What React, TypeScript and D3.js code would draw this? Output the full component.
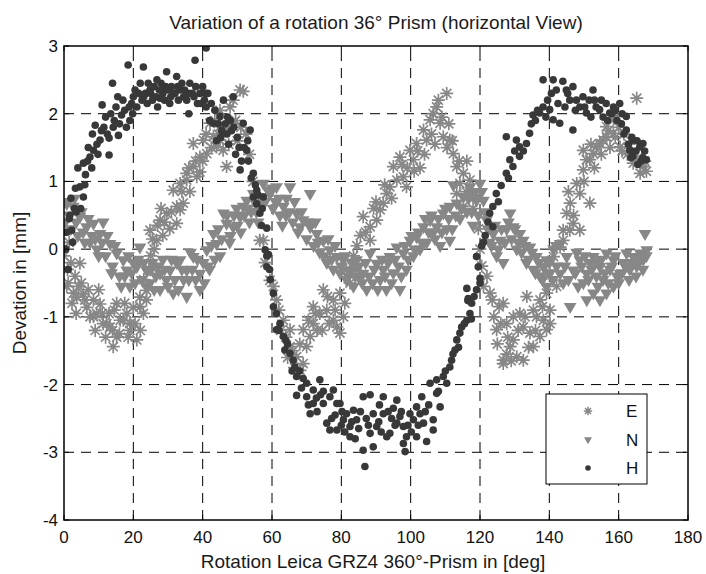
import React from "react";
import * as d3 from "d3";

// rotation angle [deg] / deviation [mm]
const eData: [number, number][] = [
  [0,-0.1],[0.8,-0.55],[1,-0.3],[1.5,0.1],[2,-0.2],[2.7,-0.65],[3.2,-0.4],[3.7,-0.71],[4.6,-0.21],[5,-0.5],
  [5.6,-0.66],[6.6,-0.86],[7,-0.6],[8.5,-0.75],[8.5,-1.0],[9.4,-0.95],[10.4,-0.81],[11.3,-1.1],[12.3,-1.1],[13.3,-1.15],
  [14.2,-1.44],[14.5,-0.9],[15.2,-1.3],[15.2,-0.8],[16.2,-1.05],[17.1,-1.05],[18.1,-0.95],[19,-1.2],[19,-1.1],[20,-0.86],
  [21,-1.34],[21.9,-0.85],[21.9,-0.71],[22.9,-0.95],[23.8,-0.61],[23.8,-0.75],[24.5,-0.3],[24.8,0.28],[25,-0.1],[26,0.0],
  [26.7,0.13],[27.7,0.43],[28.5,0.2],[29.6,0.53],[30.5,0.3],[31.5,0.87],[32.5,0.38],[32.5,0.63],[33.5,0.58],[33.5,0.97],
  [34.4,0.68],[35.4,1.02],[35.4,1.12],[36.3,0.85],[37.3,1.22],[37.3,1.56],[38.3,1.07],[39.2,1.36],[39.2,1.14],[40.2,1.61],
  [41.2,1.41],[42.1,1.86],[43.1,1.66],[44,1.51],[45,1.81],[45,2.05],[45,1.61],[45.9,1.46],[46.9,1.22],[47.9,2.1],
  [48.8,2.2],[49.5,1.9],[50.8,2.35],[51.7,2.33],[52.5,1.7],[53.5,1.4],[54.5,1.0],[55.5,0.6],[56.5,0.13],[57.5,0.13],
  [58,-0.2],[59.4,-0.46],[60.4,-0.55],[61.3,-0.75],[62,-0.9],[63.3,-1.05],[64,-1.3],[65.2,-1.19],[65.2,-1.44],[66,-1.5],
  [67.1,-1.59],[68.1,-1.79],[69,-1.69],[69,-1.19],[70,-1.44],[71,-1.29],[71.9,-1.1],[71.9,-0.85],[73,-1.2],[73.8,-0.95],
  [74.8,-0.6],[75.8,-0.9],[76.5,-1.1],[77.7,-1.05],[77.7,-0.75],[78.7,-1.15],[79.6,-1.24],[79.6,-0.65],[80.6,-1.0],[81.5,-0.3],
  [82.5,-0.5],[83.5,-0.1],[84.5,0.05],[85.5,0.2],[86.3,0.48],[88.3,0.33],[88.3,0.13],[89.3,0.6],[90.2,0.43],[91.2,0.58],
  [92.1,0.68],[93.1,0.82],[94,0.92],[95,1.22],[96,1.02],[96.9,1.36],[97.9,1.07],[98.8,0.92],[99.8,1.46],[100.8,1.32],
  [101.7,1.56],[102.7,1.2],[103.7,1.76],[104.6,1.61],[105.6,1.91],[106.5,2.0],[107.5,2.1],[108.5,1.86],[109.4,1.66],[110.4,2.3],
  [110.5,1.5],[111.3,1.61],[112.3,1.41],[113.3,1.22],[113.3,0.82],[114.2,0.97],[115.2,1.12],[115.2,0.63],[116.2,1.3],[117.1,1.02],
  [118,0.6],[119,0.77],[119.5,0.3],[120,0.0],[120.5,-0.25],[121,-0.55],[122,-0.4],[122.9,-0.65],[124,-1.0],[124.8,-1.19],
  [125.5,-0.85],[126.7,-0.8],[126.7,-1.64],[126.7,-1.69],[127.7,-1.1],[127.7,-1.55],[128.7,-1.44],[129.6,-1.0],[129.6,-1.34],[130.6,-1.59],
  [131.5,-0.95],[132.5,-1.15],[132.5,-1.64],[133.5,-0.7],[134.4,-1.24],[135.4,-0.9],[135.4,-1.44],[136.3,-1.0],[137.3,-1.29],[137.3,-0.75],
  [138.3,-1.05],[139.2,-0.65],[139.2,-1.19],[139.2,-0.36],[140.2,-0.9],[140.2,-1.1],[141.2,-0.11],[142.1,-0.55],[143.1,0.03],[144,0.13],
  [144,0.28],[145,0.53],[145.9,0.28],[146,0.68],[146.9,0.38],[147.9,0.97],[148.8,0.82],[148.8,0.28],[149.8,1.17],[149.8,1.46],
  [150.7,1.32],[151.7,0.68],[151.7,1.32],[152.7,1.41],[153.6,1.51],[154.6,1.56],[155.5,1.61],[156.5,1.81],[156.5,1.66],[157.5,1.5],
  [158.5,1.71],[158.5,1.91],[159.3,1.96],[160.4,1.51],[161.5,1.7],[162.5,1.4],[164.2,1.27],[165.2,2.23],[166.2,1.12],[167.1,1.22],
  [168,1.15],
  [1.2,-0.5],[2.3,-0.8],[3.5,-0.95],[4.2,-0.55],[6,-0.75],[7.5,-1.0],[9,-1.2],[10,-0.6],[11,-0.95],[12,-1.3],
  [13,-0.95],[14,-1.2],[16,-1.25],[17.5,-0.8],[18.5,-1.3],[20.5,-1.1],[22,-1.2],[23,-0.45],[25.5,0.15],[27,0.35],
  [28,0.6],[29,0.4],[31,0.55],[34,0.85],[36,1.2],[38,1.3],[40,1.3],[41,1.7],[42.5,1.5],[43.5,1.9],
  [44.5,1.7],[46.5,1.75],[47.5,1.55],[48,1.85],[50,1.6],[51,1.8],[62.5,-1.2],[64.5,-1.6],[66.5,-1.75],[68,-1.4],
  [70.5,-1.05],[72.5,-0.95],[74.5,-1.2],[76,-0.7],[78.2,-0.9],[81,-0.8],[84,-0.3],[87,0.25],[90,0.7],[92.5,0.95],
  [94.5,0.75],[97.5,1.25],[99,1.2],[101,1.15],[102,1.45],[104,1.4],[106,1.7],[107,1.55],[108,2.2],[109,1.95],
  [111,1.85],[112,1.6],[114,1.3],[116,0.85],[117.5,0.8],[123.5,-0.75],[125,-1.4],[126,-1.1],[128,-1.3],[129,-1.65],
  [131,-1.2],[133,-1.0],[134,-1.45],[136,-1.2],[138,-0.85],[145.5,0.85],[147,0.5],[150,1.0],[152,1.55],[153,1.2],
  [155,1.4],[157,1.75],[159,1.65],[160,1.8],[161,1.45],[163,1.55],[165.5,1.35],[167.5,1.3],
];

const nData: [number, number][] = [
  [0,0.7],[0.8,0.67],[1.5,0.5],[2.7,0.63],[3.5,0.4],[4.6,0.48],[5.5,0.25],[6.5,0.33],[7.5,0.1],[8.5,0.38],
  [9.5,0.0],[10.4,0.23],[11.3,0.4],[12,-0.1],[13.3,0.08],[14,-0.25],[15.2,-0.06],[16,-0.4],[17.1,-0.16],[18.1,-0.31],
  [19,-0.55],[20,-0.2],[21,-0.26],[21.9,0.03],[22.5,-0.45],[23.8,-0.31],[24.8,-0.5],[25.5,-0.2],[26.5,-0.4],[27.7,-0.36],
  [27.7,-0.6],[28.5,-0.15],[29.5,-0.45],[30.6,-0.31],[31.5,-0.65],[32.5,-0.2],[33.5,-0.16],[34.5,-0.45],[35.4,-0.31],[35.4,-0.7],
  [36.5,-0.05],[37.3,-0.11],[38,-0.45],[39.2,-0.36],[39.2,-0.6],[40.2,-0.2],[41.2,-0.01],[42,-0.3],[43.1,0.23],[44,0.08],
  [45,-0.1],[46,0.53],[46.9,0.38],[47.8,0.1],[48.8,0.33],[49.8,0.6],[50.8,0.48],[51.7,0.63],[52.7,0.72],[53.5,0.4],
  [54.6,0.82],[55.5,0.55],[56.5,0.77],[57.5,0.97],[58.9,0.87],[59.4,0.82],[60.3,0.6],[61.3,0.92],[62.3,0.5],[63.3,0.63],
  [64.2,0.75],[65.2,0.92],[66,0.4],[67.1,0.53],[68.1,0.33],[69,0.43],[70,0.15],[71,0.82],[71,0.33],[72,0.05],
  [72.9,0.23],[73.8,-0.05],[74.8,0.13],[75.8,-0.2],[76.7,-0.01],[77.7,-0.3],[78.7,-0.11],[79.6,-0.35],[80.6,-0.16],[81.5,-0.45],
  [82.5,-0.31],[83.5,-0.55],[84.4,-0.16],[85.3,-0.4],[86.3,-0.36],[87.3,-0.6],[88.3,-0.06],[89,-0.5],[90.2,-0.21],[91.2,-0.45],
  [92.1,-0.3],[93,-0.6],[94,-0.11],[95,-0.35],[96,0.03],[96.9,-0.6],[97.9,-0.06],[98.8,-0.3],[99.8,0.13],[100.8,-0.1],
  [101.7,0.18],[102.7,0.0],[103.7,0.33],[104.6,0.1],[105.6,0.43],[106.5,0.25],[107.5,0.33],[108.5,0.05],[109.4,0.53],[110.4,0.3],
  [111.3,0.13],[111.3,0.63],[112.3,0.95],[113.3,0.68],[114.2,0.45],[115.2,0.77],[116.2,0.55],[117.1,0.92],[118,0.35],[119,0.72],
  [120,0.97],[121,0.72],[121.9,0.43],[122.8,0.1],[123.8,0.23],[124.8,-0.1],[125.8,0.13],[126.7,-0.2],[127.7,0.3],[128.7,0.53],
  [129.6,0.33],[130.6,0.0],[131.5,0.23],[132.5,0.13],[133.4,-0.2],[134.4,0.03],[135.4,-0.3],[136.3,-0.11],[137.3,-0.4],[138.3,-0.26],
  [139.2,-0.16],[139.2,-0.55],[140.2,-0.35],[141.2,0.0],[142.1,-0.25],[143.1,0.08],[143.1,-0.36],[144,-0.5],[145,-0.11],[146,-0.85],
  [146.9,-0.31],[147.9,-0.05],[148.8,-0.16],[149.8,-0.5],[150.8,-0.36],[150.8,-0.75],[151.7,-0.2],[152.7,-0.11],[152.7,-0.65],[153.6,-0.4],
  [154.6,-0.26],[154.6,-0.75],[155.5,-0.45],[156.5,-0.06],[156.5,-0.65],[157.5,-0.3],[158.5,-0.16],[158.5,-0.55],[159.5,-0.4],[160.4,-0.36],
  [161.3,-0.2],[162.3,-0.06],[163.2,-0.3],[164.2,-0.11],[165.2,-0.25],[166.2,-0.06],[167.1,-0.15],[167.6,0.23],[168.1,-0.01],
  [0.3,0.4],[2,0.3],[3,0.75],[4,0.2],[5,0.55],[6,0.1],[7,0.45],[8,0.2],[9,0.15],[10,-0.1],
  [11,0.1],[12.5,0.2],[13.7,-0.35],[14.7,0.05],[16.5,-0.55],[17.5,-0.4],[18.6,-0.1],[19.5,-0.35],[20.5,-0.5],[21.5,-0.15],
  [23,-0.2],[24,-0.55],[25,-0.3],[26,-0.6],[27,-0.25],[29,-0.3],[30,-0.55],[31,-0.15],[32,-0.45],[33,-0.6],
  [34,-0.3],[36,-0.45],[37,-0.3],[38.5,-0.15],[40.5,-0.5],[41.5,-0.25],[42.5,0.05],[43.5,-0.15],[44.5,0.3],[45.5,0.15],
  [47,0.5],[48,0.2],[49,0.5],[50,0.35],[51,0.25],[52,0.5],[53,0.6],[54,0.55],[55,0.7],[56,0.4],
  [57,0.65],[58,0.7],[60,0.9],[61,0.7],[62,0.75],[63,0.35],[64,0.5],[65,0.55],[66.5,0.7],[67.5,0.25],
  [68.5,0.55],[70.5,0.4],[72.5,0.4],[73.3,0.1],[75,-0.1],[76.2,0.15],[77.2,-0.15],[78.2,0.05],[80,-0.25],[81,-0.1],
  [82,-0.4],[83,-0.2],[84,-0.4],[85,-0.25],[86,-0.5],[87,-0.2],[88,-0.4],[89.5,-0.3],[90.5,-0.6],[91.7,-0.15],
  [92.6,-0.4],[93.5,-0.2],[94.5,-0.5],[95.5,-0.15],[96.5,-0.25],[97.3,-0.4],[98.3,0.05],[99.3,-0.15],[100.3,0.2],[101.2,0.0],
  [102.2,0.25],[103.2,0.1],[104.2,0.45],[105.2,0.25],[106,0.5],[107,0.15],[108,0.45],[109,0.25],[110,0.6],[111,0.45],
  [112,0.3],[113,0.5],[114.7,0.6],[116.7,0.75],[117.6,0.55],[118.5,0.85],[119.5,0.5],[120.5,0.85],[121.5,0.55],[122.3,0.3],
  [123.3,0.05],[124.3,0.35],[125.3,0.0],[126.2,0.3],[127.2,0.1],[128.2,0.4],[129.1,0.15],[130.1,0.3],[131,0.1],[132,-0.05],
  [133,0.05],[134,-0.15],[135,-0.05],[136,-0.35],[137,-0.2],[138,-0.45],[140,-0.2],[141,-0.45],[142,0.05],[144.5,-0.25],
  [145.5,-0.45],[147.5,-0.35],[148.3,-0.55],[149.3,-0.25],[150.3,-0.1],[151.3,-0.45],[152.2,-0.3],[153.2,-0.2],[154,-0.55],[155,-0.15],
  [156,-0.35],[157,-0.5],[158,-0.25],[159,-0.1],[160,-0.5],[161,-0.35],[162,-0.25],[163,-0.45],[164,-0.2],[165,-0.4],
  [166,-0.15],[167,-0.3],[168,-0.1],
];

const hData: [number, number][] = [
  [0.5,0.0],[0.8,0.25],[1.2,-0.3],[1.5,0.45],[1.7,0.5],[2.2,0.28],[2.5,0.1],[3,0.6],[3.5,0.55],[4,1.2],
  [4.6,0.92],[4.8,0.6],[5.6,0.77],[5.6,1.27],[6.2,1.1],[6.8,1.3],[7.5,1.36],[8,1.2],[8.5,1.46],[9,1.83],
  [9.5,1.55],[10.4,1.61],[11,2.13],[11.5,1.8],[12,1.95],[13,1.39],[13,1.64],[13.5,2.0],[14,2.45],[14.5,1.9],
  [15,2.1],[15.7,1.68],[16.6,1.98],[17,2.2],[17.5,2.05],[18,1.8],[18.5,2.72],[19,1.9],[19.5,2.15],[20,2.25],
  [20.5,2.35],[21,2.1],[22,2.45],[22.9,2.69],[23,2.25],[23.5,2.3],[24,2.15],[24.8,2.35],[25.5,2.2],[26,2.4],
  [26.5,2.25],[27,2.1],[27.7,2.23],[28,2.45],[28.5,2.3],[29,2.2],[29.6,2.62],[30,2.35],[30.5,2.15],[31,2.4],
  [31.5,2.3],[32.5,2.55],[33,2.2],[33.5,2.35],[34,2.45],[34.5,2.25],[35.4,2.2],[36,2.0],[36.3,2.45],[37,2.3],
  [37.8,2.79],[38.5,2.15],[39.2,2.3],[40,2.4],[40.5,2.2],[41,2.97],[41,2.1],[41.5,2.3],[42,1.9],[43,1.86],
  [43.5,2.05],[44,1.6],[45,1.96],[45.5,1.75],[46,2.2],[47,1.7],[47.5,1.55],[48,1.9],[48.8,2.25],[49,1.8],
  [49.5,1.4],[50,1.65],[50.8,1.17],[51.7,1.86],[52,1.5],[52.7,1.46],[53.2,1.3],[53.7,1.76],[54,1.05],[54.6,1.12],
  [54.6,0.77],[55.2,0.95],[55.6,0.87],[55.6,0.67],[56.5,0.53],[57,0.35],[57.5,0.77],[58,-0.01],[58.5,0.31],[58.5,-0.1],
  [59,-0.08],[58.5,-0.26],[59.5,-0.45],[60.4,-0.65],[60.4,-0.85],[61.3,-0.95],[62.3,-1.1],[61.3,-1.19],[63.3,-1.29],[63.7,-1.49],
  [64.5,-1.4],[65.2,-1.54],[66.1,-1.64],[66.6,-1.74],[67.1,-1.88],[67.1,-2.16],[68,-1.8],[69,-1.91],[70,-1.98],[70,-2.18],
  [71,-2.43],[71.9,-2.08],[71.9,-2.28],[72.8,-2.2],[73.8,-1.93],[74.8,-2.1],[74.8,-2.28],[75.8,-2.57],[76.7,-2.18],[76.7,-2.67],
  [77.7,-2.08],[78.2,-2.45],[78.7,-2.28],[78.7,-2.67],[79.6,-2.28],[80.6,-2.52],[81,-2.7],[81.5,-2.43],[82.5,-2.62],[82.5,-2.77],
  [83.5,-2.38],[84.4,-2.52],[85,-2.65],[86.3,-2.18],[86.3,-2.97],[86.8,-3.21],[87.2,-2.5],[88.3,-2.15],[88.3,-2.72],[89.2,-2.43],
  [89.2,-2.92],[90.2,-2.62],[91,-2.3],[92.1,-2.43],[92.1,-2.18],[93.1,-2.77],[94,-2.72],[94.5,-2.5],[95,-2.35],[96,-2.23],
  [96,-2.57],[96.9,-2.47],[97.9,-2.62],[97.9,-2.87],[98.4,-2.99],[98.8,-2.77],[99.8,-2.43],[100.8,-2.52],[101.7,-2.33],[101.7,-2.77],
  [102.7,-2.43],[103.2,-2.18],[103.7,-2.57],[104.6,-2.84],[105.6,-1.98],[106.5,-2.52],[106.5,-2.67],[107.5,-2.13],[107.5,-1.93],[108.5,-2.33],
  [109.4,-1.88],[110.4,-1.98],[111.3,-1.74],[111.8,-1.64],[112.8,-1.49],[113.3,-1.34],[114.2,-1.24],[114.7,-1.15],[116.2,-1.05],[117.1,-0.95],
  [117.5,-1.03],[116.5,-0.76],[117.6,-0.8],[116.6,-0.73],[116.2,-0.58],[119,-0.6],[120,-0.5],[120,-0.43],[119.5,-0.26],[119,-0.11],
  [120.5,0.05],[121.5,0.2],[122.8,0.53],[123.7,0.33],[123.7,0.63],[124.7,0.82],[126.1,0.94],[127.6,1.12],[127.6,1.66],[128.6,1.32],
  [129.5,1.22],[130.5,1.61],[131.4,1.37],[131.4,1.51],[133.4,1.56],[134.3,1.71],[135.3,1.98],[136,1.9],[137.2,2.01],[138.2,2.1],
  [138.2,2.5],[139,1.95],[140.1,2.06],[141.1,1.91],[141.1,2.5],[142,2.35],[143,1.86],[143.9,2.48],[144.5,2.1],[144.9,2.35],
  [145.9,2.2],[146.8,2.4],[146.8,1.76],[147.5,2.05],[148.8,2.1],[149.7,2.25],[150.7,2.01],[151.5,2.2],[152.6,2.35],[153.5,2.1],
  [154.5,2.06],[155.5,1.95],[156.4,2.15],[157.4,2.01],[158.5,2.1],[159.5,1.9],[160.3,2.15],[161,2.0],[161.5,1.7],[162.2,1.96],
  [162.2,1.76],[162.8,1.55],[163.2,1.46],[163.8,1.65],[164.1,1.61],[164.1,1.37],[165,1.45],[165.5,1.25],[166.1,1.51],[167,1.56],
  [167,1.35],[168,1.32],
  [2,0.75],[3.3,0.9],[6,0.95],[7,1.5],[8.2,1.7],[9.8,1.4],[10.8,1.75],[12.5,1.7],[14.2,1.8],[15.5,2.25],
  [16,1.85],[18.8,2.1],[19.8,2.0],[21.5,2.3],[22.5,2.2],[24.3,2.45],[25,2.3],[26.8,2.5],[27.5,2.35],[29.3,2.4],
  [30.8,2.25],[32,2.3],[32.8,2.4],[34.8,2.35],[35.8,2.3],[37.5,2.25],[38,2.4],[39.5,2.15],[40.8,2.3],[42.5,2.15],
  [44.5,1.85],[45.2,1.65],[46.5,1.85],[47.2,1.95],[48.3,1.75],[50.5,1.5],[51.2,1.3],[53,1.6],[56,0.8],[57.2,0.6],
  [59.3,-0.3],[62,-1.2],[64,-1.35],[65.8,-1.8],[68.5,-2.05],[70.5,-2.3],[73,-2.4],[74,-2.15],[77.2,-2.5],[80,-2.6],
  [80.2,-2.4],[83,-2.55],[84,-2.8],[85.5,-2.4],[87.8,-2.6],[90.8,-2.55],[91.5,-2.7],[93.5,-2.4],[95.5,-2.6],[97.3,-2.4],
  [99.2,-2.6],[100.2,-2.7],[102.2,-2.6],[104.2,-2.4],[105.2,-2.3],[108,-2.1],[110,-1.8],[112.2,-1.55],[113.8,-1.45],[115.5,-1.1],
  [118.3,-0.7],[121,0.1],[122.3,0.4],[125.3,0.7],[128.2,1.05],[130,1.45],[132.5,1.45],[134.8,1.85],[136.6,2.05],[139.5,2.2],
  [140.6,2.3],[142.5,2.15],[145.3,2.3],[147.8,2.2],[150.2,2.1],[152,1.95],[153,2.2],[155,2.2],[156.8,1.9],[158,2.0],
  [159,2.05],[160.8,1.85],[163.5,1.35],[165.3,1.6],[166.5,1.3],[167.5,1.45],
];

const xTicks = [0, 20, 40, 60, 80, 100, 120, 140, 160, 180];
const yTicks = [-4, -3, -2, -1, 0, 1, 2, 3];
const seriesNames = ["E", "N", "H"];

const title = "Variation of a rotation 36° Prism (horizontal View)";
const xLabel = "Rotation Leica GRZ4 360°-Prism in [deg]";
const yLabel = "Devation in [mm]";

const font = "Liberation Sans, Arial, sans-serif";
const grey = "#878787";
const dark = "#383838";

// matlab style '*' marker: + and x on top of each other
function asterisk(r: number) {
  const d = r * Math.SQRT1_2;
  return `M${-r},0L${r},0M0,${-r}L0,${r}M${-d},${-d}L${d},${d}M${-d},${d}L${d},${-d}`;
}

export default function App() {
  const left = 64, right = 688, top = 46, bottom = 520;
  const x = d3.scaleLinear().domain([0, 180]).range([left, right]);
  const y = d3.scaleLinear().domain([-4, 3]).range([bottom, top]);

  const tri = d3.symbol(d3.symbolTriangle, 70)();
  const triSmall = d3.symbol(d3.symbolTriangle, 28)();
  const star = asterisk(6.5);
  const starSmall = asterisk(4.2);

  const legendX = 546, legendY = 394;

  return (
    <svg width={706} height={574} style={{ position: "absolute", left: 0, top: 0, background: "#fff" }}
      fontFamily={font}>
      <defs>
        <clipPath id="plot">
          <rect x={left} y={top} width={right - left} height={bottom - top} />
        </clipPath>
      </defs>

      {/* grid */}
      <g stroke="#000" strokeWidth={1} strokeDasharray="10 7">
        {xTicks.slice(1, -1).map((t) => (
          <line key={"gx" + t} x1={x(t)} x2={x(t)} y1={bottom} y2={top} />
        ))}
        {yTicks.slice(1, -1).map((t) => (
          <line key={"gy" + t} x1={left} x2={right} y1={y(t)} y2={y(t)} />
        ))}
      </g>

      {/* points */}
      <g clipPath="url(#plot)">
        <g stroke={grey} strokeWidth={1.7} fill="none">
          {eData.map((d, i) => (
            <path key={"e" + i} d={star} transform={`translate(${x(d[0])},${y(d[1])})`} />
          ))}
        </g>
        <g fill={grey}>
          {nData.map((d, i) => (
            <path key={"n" + i} d={tri!} transform={`translate(${x(d[0])},${y(d[1])}) rotate(180)`} />
          ))}
        </g>
        <g fill={dark}>
          {hData.map((d, i) => (
            <circle key={"h" + i} cx={x(d[0])} cy={y(d[1])} r={3.8} />
          ))}
        </g>
      </g>

      {/* axes box and ticks */}
      <rect x={left} y={top} width={right - left} height={bottom - top} fill="none" stroke="#000" strokeWidth={1.5} />
      <g stroke="#000" strokeWidth={1}>
        {xTicks.map((t) => (
          <g key={"tx" + t}>
            <line x1={x(t)} x2={x(t)} y1={bottom} y2={bottom - 5} />
            <line x1={x(t)} x2={x(t)} y1={top} y2={top + 5} />
          </g>
        ))}
        {yTicks.map((t) => (
          <g key={"ty" + t}>
            <line x1={left} x2={left + 5} y1={y(t)} y2={y(t)} />
            <line x1={right} x2={right - 5} y1={y(t)} y2={y(t)} />
          </g>
        ))}
      </g>
      <g fontSize={17} fill="#111">
        {xTicks.map((t) => (
          <text key={"lx" + t} x={x(t)} y={bottom + 23} textAnchor="middle">{t}</text>
        ))}
        {yTicks.map((t) => (
          <text key={"ly" + t} x={left - 6} y={y(t) + 6} textAnchor="end">{t}</text>
        ))}
      </g>

      {/* labels */}
      <text x={376} y={29} textAnchor="middle" fontSize={19} fill="#1a1a1a">{title}</text>
      <text x={373} y={568} textAnchor="middle" fontSize={19} fill="#1a1a1a">{xLabel}</text>
      <text transform={`translate(26,${(top + bottom) / 2}) rotate(-90)`} textAnchor="middle" fontSize={19} fill="#1a1a1a">{yLabel}</text>

      {/* legend */}
      <g>
        <rect x={legendX} y={legendY} width={101} height={90} fill="#fff" stroke="#000" strokeWidth={1} />
        {seriesNames.map((name, i) => {
          const cy = legendY + 17 + i * 28.5;
          return (
            <g key={name}>
              {i === 0 && <path d={starSmall} transform={`translate(588,${cy})`} stroke={grey} strokeWidth={1.5} fill="none" />}
              {i === 1 && <path d={triSmall!} transform={`translate(588,${cy}) rotate(180)`} fill={grey} />}
              {i === 2 && <circle cx={588} cy={cy} r={2.8} fill={dark} />}
              <text x={626} y={cy + 6} fontSize={17} fill="#111">{name}</text>
            </g>
          );
        })}
      </g>
    </svg>
  );
}
